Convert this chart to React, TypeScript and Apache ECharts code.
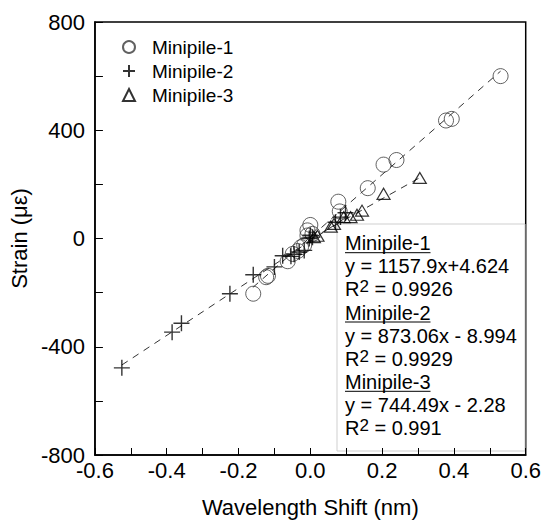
import React, { useEffect, useRef } from "react";
import * as echarts from "echarts";

// ---- data ----
const seriesNames = ["Minipile-1", "Minipile-2", "Minipile-3"];

const minipile1: [number, number][] = [
  [-0.159, -204], [-0.123, -143], [-0.118, -138], [-0.063, -84], [-0.049, -57],
  [-0.035, -46], [-0.026, -32], [-0.017, -24], [-0.008, 11], [0.006, 17],
  [-0.008, 30], [0.0, 50], [0.082, 100], [0.078, 136], [0.16, 186],
  [0.204, 273], [0.24, 290], [0.378, 436], [0.394, 442], [0.53, 600],
];

const minipile2: [number, number][] = [
  [-0.525, -478], [-0.385, -346], [-0.359, -313], [-0.224, -204], [-0.159, -134],
  [-0.1, -105], [-0.077, -64], [-0.054, -66], [-0.045, -58], [-0.031, -50],
  [-0.017, -44], [-0.003, 0], [0.006, 5], [0.0, 12], [0.07, 60],
  [0.084, 79], [0.098, 95],
];

const minipile3: [number, number][] = [
  [0.01, 5], [0.02, 10], [0.057, 44], [0.066, 54], [0.093, 79],
  [0.112, 79], [0.13, 88], [0.144, 103], [0.204, 165], [0.305, 224],
];

// fitted lines as printed in the figure
const fitSlopes = [1157.9, 873.06, 744.49];
const fitIntercepts = [4.624, -8.994, -2.28];
const fitXRanges: [number, number][] = [[-0.16, 0.53], [-0.525, 0.1], [0.0, 0.305]];

const annotationLines = [
  "Minipile-1", "y = 1157.9x+4.624", "R2 = 0.9926",
  "Minipile-2", "y = 873.06x - 8.994", "R2 = 0.9929",
  "Minipile-3", "y = 744.49x - 2.28", "R2 = 0.991",
];

const xTicks = { min: -0.6, max: 0.6, interval: 0.2 };
const yTicks = { min: -800, max: 800, interval: 400 };

const FONT = "'Liberation Sans', Arial, Helvetica, sans-serif";

export default function App() {
  const ref = useRef<HTMLDivElement>(null);

  useEffect(() => {
    if (!ref.current) return;
    const chart = echarts.init(ref.current, undefined, { renderer: "svg" });

    const plusPath = "path://M8,0L8,16M0,8L16,8";

    const fitSeries = fitSlopes.map((m, i) => ({
      type: "line" as const,
      name: "fit-" + (i + 1),
      data: fitXRanges[i].map((x) => [x, m * x + fitIntercepts[i]]),
      symbol: "none",
      silent: true,
      z: 1,
      lineStyle: { color: "#333", width: 1, type: [7, 6] as any },
    }));

    // annotation graphics
    const boxX = 337, boxY = 224, boxW = 188, boxH = 227;
    const textX = 345;
    const lineY0 = 243.2, lineStep = 23.1;
    const annoEls: any[] = [
      {
        type: "rect",
        shape: { x: boxX, y: boxY, width: boxW, height: boxH },
        style: { fill: "#fff", stroke: "#cfcfcf", lineWidth: 1 },
      },
    ];
    annotationLines.forEach((t, i) => {
      const cy = lineY0 + i * lineStep;
      const isTitle = i % 3 === 0;
      const isR2 = i % 3 === 2;
      if (isR2) {
        annoEls.push({
          type: "text",
          x: textX,
          y: cy,
          style: {
            text: "{b|R}{s|2}{b|" + t.slice(2) + "}",
            rich: {
              b: { fontSize: 20, fontFamily: FONT, fill: "#000", lineHeight: 22 },
              s: { fontSize: 17, fontFamily: FONT, fill: "#000", verticalAlign: "top", lineHeight: 16 },
            },
            verticalAlign: "middle",
            align: "left",
          },
        });
      } else {
        annoEls.push({
          type: "text",
          x: textX,
          y: cy,
          style: {
            text: t,
            fontSize: 20,
            fontFamily: FONT,
            fill: "#000",
            verticalAlign: "middle",
            align: "left",
          },
        });
      }
      if (isTitle) {
        annoEls.push({
          type: "line",
          shape: { x1: textX, y1: cy + 9.5, x2: textX + 85.5, y2: cy + 9.5 },
          style: { stroke: "#000", lineWidth: 1 },
        });
      }
    });

    chart.setOption({
      animation: false,
      backgroundColor: "#fff",
      grid: {
        left: 92, right: 17, top: 22, bottom: 68,
        show: true, borderColor: "#000", borderWidth: 1.5, backgroundColor: "transparent",
      },
      legend: {
        data: seriesNames,
        orient: "vertical",
        left: 117,
        top: 32.5,
        itemWidth: 12,
        itemHeight: 12,
        itemGap: 5,
        textStyle: { fontSize: 19, fontFamily: FONT, color: "#000", padding: [0, 0, 0, 12] },
      },
      xAxis: {
        type: "value",
        min: xTicks.min, max: xTicks.max, interval: xTicks.interval,
        z: 10,
        name: "Wavelength Shift (nm)",
        nameLocation: "middle",
        nameGap: 41,
        nameTextStyle: { fontSize: 22, fontFamily: FONT, color: "#000" },
        axisLine: { show: true, onZero: false, lineStyle: { color: "#000", width: 1.5 } },
        axisTick: { show: true, inside: true, length: 7, lineStyle: { color: "#000", width: 1 } },
        minorTick: { show: true, splitNumber: 2, length: 7, lineStyle: { color: "#000", width: 1 } },
        splitLine: { show: false },
        axisLabel: {
          fontSize: 22, fontFamily: FONT, color: "#000", margin: 4,
          formatter: (v: number) => (Math.abs(v) < 1e-9 ? "0.0" : v.toFixed(1)),
        },
      },
      yAxis: {
        type: "value",
        min: yTicks.min, max: yTicks.max, interval: yTicks.interval,
        z: 10,
        name: "Strain (με)",
        nameLocation: "middle",
        nameGap: 58,
        nameTextStyle: { fontSize: 22, fontFamily: FONT, color: "#000" },
        axisLine: { show: true, onZero: false, lineStyle: { color: "#000", width: 1.5 } },
        axisTick: { show: true, inside: true, length: 8, lineStyle: { color: "#000", width: 1 } },
        minorTick: { show: true, splitNumber: 2, length: 8, lineStyle: { color: "#000", width: 1 } },
        splitLine: { show: false },
        axisLabel: { fontSize: 22, fontFamily: FONT, color: "#000", margin: 10 },
      },
      graphic: { elements: [{ type: "group", z: 5, children: annoEls }] },
      series: [
        ...fitSeries,
        {
          type: "scatter",
          name: seriesNames[0],
          data: minipile1,
          symbol: "circle",
          symbolSize: 15,
          z: 2,
          itemStyle: { color: "transparent", borderColor: "#3a3a3a", borderWidth: 1 },
        },
        {
          type: "scatter",
          name: seriesNames[1],
          data: minipile2,
          symbol: plusPath,
          symbolSize: 16,
          symbolKeepAspect: true,
          z: 2,
          itemStyle: { color: "transparent", borderColor: "#000", borderWidth: 1.4 },
        },
        {
          type: "scatter",
          name: seriesNames[2],
          data: minipile3,
          symbol: "triangle",
          symbolSize: [13, 11],
          z: 2,
          itemStyle: { color: "transparent", borderColor: "#000", borderWidth: 1.2 },
        },
      ],
    });

    return () => chart.dispose();
  }, []);

  return <div ref={ref} style={{ width: 544, height: 523, position: "absolute", left: 0, top: 0 }} />;
}
